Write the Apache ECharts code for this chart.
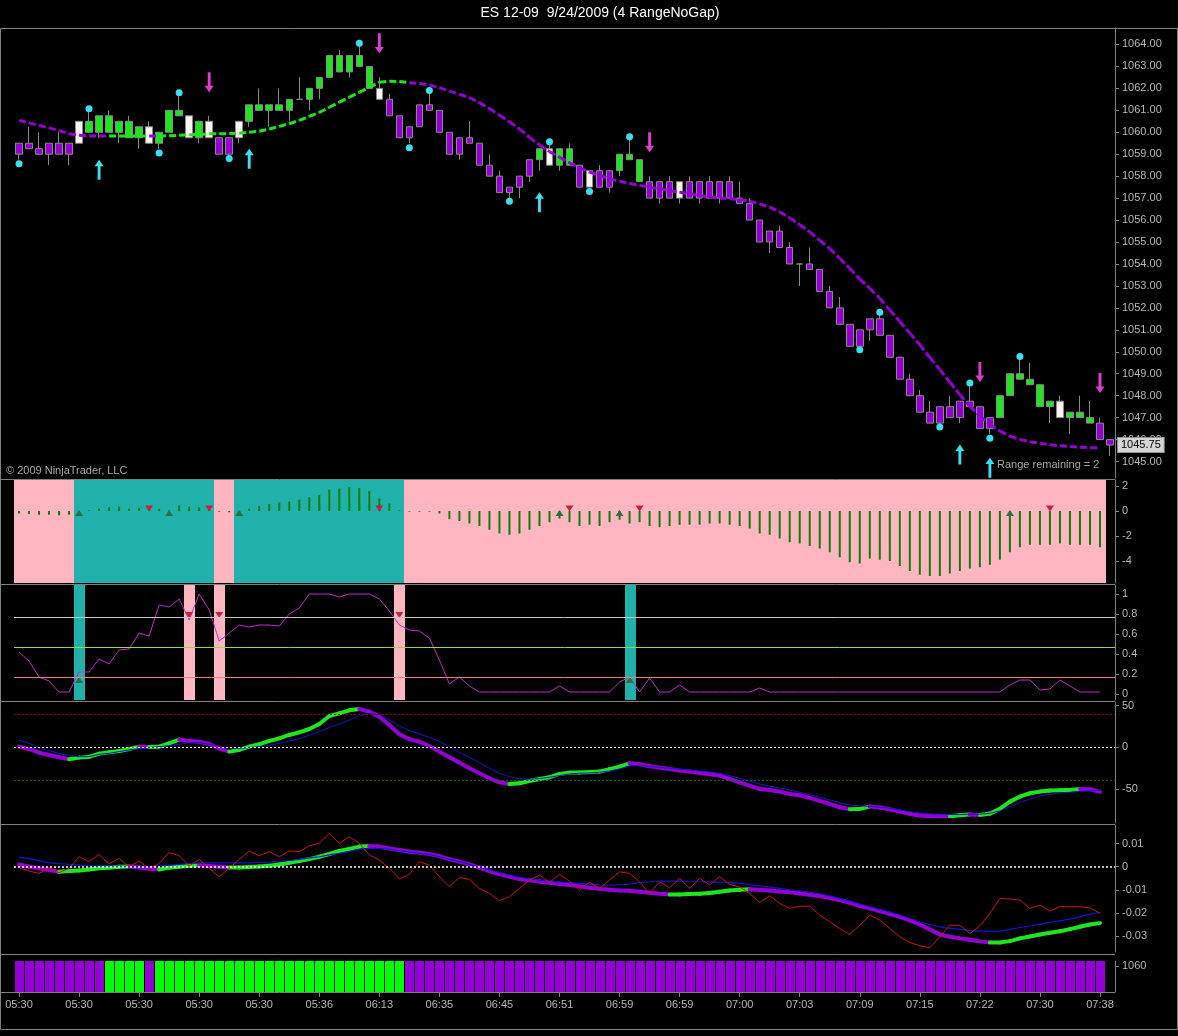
<!DOCTYPE html>
<html>
<head>
<meta charset="utf-8">
<title>ES 12-09 9/24/2009 (4 RangeNoGap)</title>
<script src="https://cdn.jsdelivr.net/npm/echarts@6/dist/echarts.min.js"></script>
<style>
html, body { margin: 0; padding: 0; background: #000; }
#chart { width: 1178px; height: 1036px; }
</style>
</head>
<body>
<div id="chart"></div>
<script>
// ---- data ----
var timeLabels = ['05:30','05:30','05:30','05:30','05:30','05:36','06:13','06:35','06:45','06:51',
  '06:59','06:59','07:00','07:03','07:09','07:15','07:22','07:30','07:38'];

var openPx = [1059.5,1059.5,1059.25,1059.5,1059.5,1059.5,1059.5,1060.0,1060.0,1060.0,
  1060.0,1059.75,1059.75,1059.5,1059.5,1060.0,1060.75,1059.75,1059.75,1059.75,
  1059.75,1059.75,1059.75,1060.5,1061.0,1061.0,1061.0,1061.0,1061.5,1061.5,
  1062.0,1062.5,1062.75,1062.75,1063.0,1062.0,1061.5,1061.5,1060.75,1060.25,
  1061.25,1061.25,1061.0,1060.0,1059.75,1059.75,1059.5,1058.5,1058.0,1057.5,
  1058.0,1058.75,1058.75,1058.5,1058.5,1058.5,1058.5,1057.5,1058.25,1058.25,
  1058.25,1058.75,1057.75,1057.75,1057.75,1057.75,1057.0,1057.75,1057.75,1057.75,
  1057.75,1057.75,1057.0,1056.75,1056.0,1055.5,1055.5,1054.75,1054.0,1054.0,
  1053.75,1052.75,1052.0,1051.25,1051.0,1051.5,1051.5,1050.75,1049.75,1048.75,
  1048.0,1047.25,1047.5,1047.5,1047.75,1047.75,1047.5,1047.0,1047.0,1048.0,
  1048.75,1048.5,1047.5,1047.5,1047.0,1047.0,1047.0,1046.75,1046.75,1046.0];
var closePx = [1059.0,1059.25,1059.0,1059.0,1059.0,1059.0,1060.5,1060.5,1060.75,1060.75,
  1060.5,1060.5,1060.25,1060.25,1060.0,1061.0,1061.0,1060.75,1060.5,1060.5,
  1059.0,1059.0,1060.5,1061.25,1061.25,1061.25,1061.25,1061.5,1061.5,1062.0,
  1062.5,1063.5,1063.5,1063.5,1063.5,1063.0,1062.0,1060.75,1059.75,1059.75,
  1060.25,1061.0,1060.0,1059.0,1059.0,1059.5,1058.5,1058.0,1057.25,1057.25,
  1057.5,1058.0,1059.25,1059.25,1059.25,1059.25,1057.5,1058.25,1057.5,1057.5,
  1059.0,1059.0,1058.75,1057.0,1057.0,1057.0,1057.75,1057.0,1057.0,1057.0,
  1057.0,1057.0,1056.75,1056.0,1055.0,1055.0,1054.75,1054.0,1054.0,1053.75,
  1052.75,1052.0,1051.25,1050.25,1050.25,1051.0,1050.75,1049.75,1048.75,1048.0,
  1047.25,1046.75,1046.75,1047.0,1047.0,1047.5,1046.5,1046.5,1048.0,1049.0,
  1049.0,1048.75,1048.5,1047.75,1047.75,1047.25,1047.25,1047.0,1046.0,1045.75];
var highPx = [1059.5,1060.25,1060.0,1059.5,1060.0,1059.5,1060.5,1061.0,1060.75,1061.0,
  1060.5,1060.75,1060.25,1060.5,1060.0,1061.0,1061.75,1060.75,1060.5,1060.75,
  1059.75,1059.75,1060.5,1061.25,1062.0,1061.25,1062.0,1061.5,1062.5,1062.0,
  1062.5,1063.5,1063.75,1063.5,1064.0,1063.0,1062.5,1061.75,1060.75,1060.25,
  1061.25,1062.0,1061.0,1060.0,1059.75,1060.5,1059.5,1059.0,1058.25,1057.5,
  1058.0,1058.75,1059.25,1059.5,1059.25,1059.5,1058.5,1058.25,1058.5,1058.25,
  1059.0,1059.75,1058.75,1058.0,1057.75,1058.0,1057.75,1058.0,1057.75,1058.0,
  1057.75,1058.0,1057.75,1057.0,1056.0,1055.5,1055.75,1055.0,1054.0,1054.75,
  1053.75,1053.0,1052.5,1051.25,1051.0,1051.5,1051.75,1050.75,1049.75,1049.0,
  1048.25,1047.75,1047.5,1048.0,1047.75,1048.5,1047.5,1047.0,1048.0,1049.0,
  1049.75,1049.5,1048.5,1047.75,1048.0,1047.25,1048.0,1047.75,1047.0,1046.0];
var lowPx = [1058.75,1059.25,1059.0,1058.5,1059.0,1058.5,1059.5,1060.0,1059.75,1060.0,
  1059.5,1059.75,1059.25,1059.5,1059.25,1060.0,1060.75,1059.75,1059.5,1059.75,
  1059.0,1058.75,1059.5,1060.25,1061.0,1060.25,1061.0,1060.5,1061.5,1061.0,
  1061.5,1062.5,1062.75,1062.5,1063.0,1062.0,1061.5,1060.75,1059.75,1059.5,
  1060.25,1061.0,1060.0,1059.0,1058.75,1059.5,1058.5,1058.0,1057.25,1056.75,
  1057.0,1057.75,1058.25,1058.5,1058.25,1058.5,1057.5,1057.5,1057.5,1057.25,
  1058.0,1058.75,1057.75,1057.0,1056.75,1057.0,1056.75,1057.0,1056.75,1057.0,
  1056.75,1057.0,1056.75,1056.0,1055.0,1054.5,1054.75,1054.0,1053.0,1053.75,
  1052.75,1052.0,1051.25,1050.25,1050.25,1050.5,1050.75,1049.75,1048.75,1048.0,
  1047.25,1046.75,1046.5,1047.0,1046.75,1047.5,1046.5,1046.25,1047.0,1048.0,
  1048.75,1048.5,1047.5,1046.75,1047.0,1046.25,1047.0,1046.75,1046.0,1045.25];
// candle paint state: 0 falling, 1 rising, 2 neutral
var candleTone = [0,0,0,0,0,0,2,1,1,1, 1,1,1,2,1,1,1,2,1,2,
  0,0,2,1,1,1,1,1,1,1, 1,1,1,1,1,1,2,0,0,0,
  0,0,0,0,0,0,0,0,0,0, 0,0,1,2,1,1,0,2,0,0,
  1,1,1,0,0,0,2,0,0,0, 0,0,0,0,0,0,0,0,0,0,
  0,0,0,0,0,0,0,0,0,0, 0,0,0,0,0,0,0,0,1,1,
  1,1,1,1,2,1,1,1,0,0];

var trendAvg = [1060.54,1060.43,1060.31,1060.2,1060.08,1059.93,1059.86,1059.83,1059.83,1059.83,
  1059.83,1059.83,1059.83,1059.83,1059.83,1059.84,1059.86,1059.89,1059.9,1059.93,
  1059.93,1059.94,1059.96,1060.0,1060.05,1060.15,1060.27,1060.39,1060.54,1060.72,
  1060.9,1061.14,1061.37,1061.6,1061.82,1062.05,1062.28,1062.32,1062.31,1062.26,
  1062.22,1062.15,1062.03,1061.88,1061.73,1061.58,1061.35,1061.08,1060.78,1060.48,
  1060.15,1059.77,1059.42,1059.12,1058.86,1058.61,1058.38,1058.19,1058.04,1057.88,
  1057.77,1057.67,1057.58,1057.5,1057.42,1057.35,1057.27,1057.2,1057.12,1057.05,
  1057.0,1056.97,1056.94,1056.86,1056.74,1056.59,1056.37,1056.1,1055.79,1055.46,
  1055.08,1054.7,1054.25,1053.8,1053.31,1052.89,1052.44,1051.9,1051.38,1050.85,
  1050.32,1049.74,1049.19,1048.61,1048.05,1047.52,1047.07,1046.69,1046.39,1046.16,
  1046.01,1045.9,1045.83,1045.77,1045.72,1045.68,1045.65,1045.63,1045.62];
// trend state per bar: 0 down, 1 up (bottom strip and average colour)
var trendState = [0,0,0,0,0,0,0,0,0,1, 1,1,1,0,1,1,1,1,1,1,
  1,1,1,1,1,1,1,1,1,1, 1,1,1,1,1,1,1,1,1,0,
  0,0,0,0,0,0,0,0,0,0, 0,0,0,0,0,0,0,0,0,0,
  0,0,0,0,0,0,0,0,0,0, 0,0,0,0,0,0,0,0,0,0,
  0,0,0,0,0,0,0,0,0,0, 0,0,0,0,0,0,0,0,0,0,
  0,0,0,0,0,0,0,0,0];

var dotBar = [0,7,14,16,21,34,39,41,49,53,57,61,84,86,92,95,97,100];
var dotPrice = [1058.57,1061.07,1059.06,1061.8,1058.8,1064.06,1059.3,1061.9,1056.86,1059.57,
  1057.3,1059.8,1050.09,1051.8,1046.57,1048.58,1046.06,1049.79];
var upArrowBar = [8,23,52,94,97];
var upArrowPrice = [1058.29,1058.79,1056.81,1045.32,1044.72];
var downArrowBar = [19,36,63,96,108];
var downArrowPrice = [1062.28,1064.05,1059.55,1049.08,1048.58];
var priceTicks = [1045,1046,1047,1048,1049,1050,1051,1052,1053,1054,1055,1056,1057,1058,1059,1060,1061,1062,1063,1064];

var histVal = [-0.2,-0.25,-0.3,-0.3,-0.35,-0.3,-0.1,0.05,0.2,0.3,
  0.35,0.2,0.25,0.2,0.15,0.05,0.45,0.35,0.3,0.35,
  -0.05,-0.1,-0.1,0.2,0.4,0.55,0.7,0.75,0.9,1.1,
  1.3,1.7,1.8,1.9,1.85,1.6,1.0,0.6,0.05,-0.05,
  -0.05,-0.05,-0.2,-0.65,-0.8,-1.0,-1.2,-1.5,-1.8,-1.9,
  -1.8,-1.5,-1.2,-0.9,-0.6,-0.9,-1.2,-1.1,-1.2,-0.9,
  -0.7,-1.0,-0.9,-1.2,-1.3,-1.2,-1.1,-1.1,-1.1,-1.0,
  -1.0,-1.1,-1.2,-1.4,-1.8,-1.9,-2.2,-2.5,-2.6,-2.8,
  -3.0,-3.3,-3.7,-4.1,-4.2,-3.8,-3.9,-4.0,-4.4,-4.8,
  -5.1,-5.2,-5.2,-5.0,-4.8,-4.6,-4.5,-4.3,-3.9,-3.3,
  -2.9,-2.7,-2.7,-2.7,-2.6,-2.7,-2.7,-2.7,-2.9];
// zone per bar: 0 pink, 1 teal
var histZone = [0,0,0,0,0,0,1,1,1,1, 1,1,1,1,1,1,1,1,1,1,
  0,0,1,1,1,1,1,1,1,1, 1,1,1,1,1,1,1,1,1,0,
  0,0,0,0,0,0,0,0,0,0, 0,0,0,0,0,0,0,0,0,0,
  0,0,0,0,0,0,0,0,0,0, 0,0,0,0,0,0,0,0,0,0,
  0,0,0,0,0,0,0,0,0,0, 0,0,0,0,0,0,0,0,0,0,
  0,0,0,0,0,0,0,0,0];
var histUpBar = [6,15,22,54,60,99];
var histUpVal = [-0.15,-0.15,-0.15,-0.15,-0.15,-0.15];
var histDownBar = [13,19,36,55,62,103];
var histDownVal = [0.2,0.2,0.2,0.2,0.2,0.2];
var histTicks = [-4,-2,0,2];

var oscVal = [0.42,0.33,0.17,0.13,0.02,0.02,0.22,0.22,0.35,0.30,
  0.44,0.45,0.61,0.58,0.89,0.87,0.95,0.74,1.0,0.84,
  0.53,0.61,0.69,0.67,0.69,0.69,0.68,0.80,0.86,1.0,
  1.0,1.0,0.97,1.0,1.0,1.0,0.95,0.83,0.69,0.64,
  0.63,0.56,0.34,0.10,0.17,0.08,0.02,0.02,0.02,0.02,
  0.02,0.02,0.02,0.02,0.08,0.02,0.02,0.02,0.02,0.02,
  0.12,0.17,0.02,0.16,0.02,0.02,0.09,0.02,0.02,0.02,
  0.02,0.02,0.02,0.02,0.06,0.02,0.02,0.02,0.02,0.02,
  0.02,0.02,0.02,0.02,0.02,0.02,0.02,0.02,0.02,0.02,
  0.02,0.02,0.02,0.02,0.02,0.02,0.02,0.02,0.02,0.09,
  0.14,0.14,0.04,0.05,0.14,0.08,0.02,0.02,0.02];
var oscLevels = [0.77,0.47,0.17];
var oscMarkBar = [6,17,20,38,61];
var oscMarkKind = [1,0,0,0,1];
var oscUpBar = [6,61];
var oscUpVal = [0.14,0.14];
var oscDownBar = [17,20,38];
var oscDownVal = [0.79,0.79,0.79];
var oscTicks = [0,0.2,0.4,0.6,0.8,1];

var macdMain = [0.8,-2,-6.4,-9.2,-12,-14.4,-12.4,-11.6,-7.6,-6,
  -4.4,-2,0.8,0.4,0.8,4.8,9.2,7.6,6.8,4,
  -1.2,-5.2,-3.2,0.8,3.6,7.6,10.8,14.8,18,22,
  28,37.6,40.8,44.4,46,42.8,36.8,26.8,15.6,9.6,
  6.8,1.6,-5.2,-12,-18.4,-25.2,-31.2,-37.2,-42,-44,
  -43.2,-40.4,-38,-36,-32,-30.4,-30.4,-29.6,-29.2,-26.4,
  -23.2,-19.2,-20.4,-22.8,-24.4,-26,-28,-29.2,-30.8,-32.4,
  -34,-38,-42,-46,-50,-51.2,-53.2,-56,-57.6,-60.8,
  -64.4,-68,-72,-74.4,-74,-71.2,-72.4,-74.4,-77.2,-80,
  -82,-82.6,-82.8,-82.9,-81.6,-80.8,-81.2,-79.6,-74,-65.2,
  -59.2,-55.2,-53.2,-52,-51.6,-51.2,-50,-50.4,-53.6];
var macdSignal = [8.8,4.8,-0.4,-4,-7.2,-9.6,-11.2,-11.2,-8.4,-7.2,
  -5.2,-3.2,-1.6,-0.4,0.8,2,3.6,5.6,5.6,3.6,
  1.6,-0.8,-1.2,-0.4,0.8,2.4,4.8,7.6,10.4,14.4,
  18.8,23.6,28,32.8,37.6,40.8,38.8,32.8,25.6,20,
  16,12,6.8,0.8,-6,-12,-18.4,-25.2,-31.2,-35.2,
  -37.6,-38.4,-37.6,-36,-34,-32,-31.2,-30.8,-30,-28.4,
  -26,-22.4,-22,-23.2,-24,-25.2,-26.4,-27.2,-28.4,-29.6,
  -31.2,-34,-37.2,-40.4,-44,-46.4,-48.8,-51.2,-54,-56.8,
  -60,-63.2,-66.4,-69.2,-70.4,-70.8,-72,-73.2,-75.2,-77.2,
  -78.8,-80,-80.4,-80.8,-80.8,-80.4,-80.4,-79.2,-76.4,-71.2,
  -66.4,-62,-58.4,-56.4,-55.2,-54,-52.8,-52.4,-52];
var macdLevels = [40,0,-40];
var macdTicks = [-50,0,50];

var slopeMain = [0.001,0,-0.0007,-0.0014,-0.0022,-0.0019,-0.0016,-0.0012,-0.0007,-0.0004,
  0,0.0001,-0.0003,-0.0009,-0.0012,-0.0004,0,0.0004,0.0006,0.0003,
  0,-0.0003,-0.0003,-0.0001,0.0001,0.0004,0.001,0.0017,0.0025,0.0033,
  0.0043,0.0055,0.0068,0.0077,0.0087,0.009,0.0087,0.0079,0.0072,0.0065,
  0.0061,0.0055,0.0046,0.0033,0.0022,0.001,-0.0004,-0.0019,-0.0032,-0.0043,
  -0.0053,-0.0059,-0.0064,-0.0069,-0.0074,-0.0079,-0.0085,-0.0091,-0.0095,-0.01,
  -0.0103,-0.0104,-0.0108,-0.0113,-0.0117,-0.012,-0.012,-0.0118,-0.0117,-0.0114,
  -0.0108,-0.0103,-0.01,-0.0098,-0.01,-0.0103,-0.0107,-0.011,-0.0116,-0.0121,
  -0.0127,-0.0136,-0.0144,-0.0156,-0.0169,-0.018,-0.0192,-0.0204,-0.0217,-0.0232,
  -0.025,-0.0271,-0.0293,-0.0303,-0.031,-0.0316,-0.0323,-0.0328,-0.0328,-0.0322,
  -0.031,-0.0302,-0.0293,-0.0286,-0.0279,-0.027,-0.026,-0.025,-0.0244];
var slopeSignal = [0.004,0.0036,0.0025,0.0017,0.0013,0.001,0.0007,0.0004,0.0004,0.0004,
  0.0003,0.0001,0.0001,0.0001,0.0004,0.0007,0.001,0.0013,0.0016,0.0017,
  0.0017,0.0017,0.0017,0.0017,0.0019,0.002,0.0023,0.0027,0.0032,0.0038,
  0.0043,0.0051,0.0058,0.0066,0.0075,0.0079,0.0079,0.0075,0.0069,0.0064,
  0.0058,0.0052,0.0043,0.0033,0.0022,0.001,-0.0001,-0.0014,-0.0026,-0.0036,
  -0.0046,-0.0052,-0.0058,-0.0062,-0.0066,-0.0069,-0.0072,-0.0075,-0.0078,-0.0079,
  -0.0079,-0.0075,-0.0069,-0.0065,-0.0062,-0.0062,-0.0062,-0.0064,-0.0065,-0.0066,
  -0.0068,-0.0068,-0.0071,-0.0077,-0.0082,-0.0088,-0.0094,-0.01,-0.0104,-0.011,
  -0.0117,-0.0126,-0.0137,-0.0149,-0.0162,-0.0173,-0.0185,-0.0196,-0.0209,-0.0224,
  -0.0238,-0.025,-0.026,-0.0267,-0.0271,-0.0276,-0.0279,-0.0279,-0.0279,-0.0271,
  -0.0263,-0.0256,-0.0248,-0.0241,-0.0234,-0.0227,-0.0217,-0.0205,-0.0199];
var slopeRaw = [-0.0004,-0.0019,-0.0029,-0.0004,-0.0026,-0.0007,0.0043,0.0022,0.0053,0.0012,
  0.0036,0,0.0025,-0.001,0.0014,0.0061,0.0048,0.0003,0.0032,-0.0007,
  -0.0043,-0.0007,0.0032,0.0068,0.0048,0.0065,0.0043,0.0068,0.0065,0.0091,
  0.0101,0.0144,0.0101,0.013,0.0101,0.0051,0.0029,-0.0007,-0.0053,-0.0033,
  0.0022,0.0007,-0.0043,-0.0087,-0.0046,-0.0055,-0.0094,-0.0116,-0.0147,-0.013,
  -0.0094,-0.0058,-0.0036,-0.0068,-0.0033,-0.0062,-0.0101,-0.0068,-0.0094,-0.0058,
  -0.0022,-0.0029,-0.0065,-0.0116,-0.0065,-0.0091,-0.0051,-0.0094,-0.0051,-0.0079,
  -0.0043,-0.0077,-0.0087,-0.0116,-0.0155,-0.0126,-0.0159,-0.018,-0.0171,-0.0171,
  -0.0209,-0.0238,-0.0267,-0.0293,-0.0253,-0.0209,-0.0231,-0.0267,-0.0303,-0.0328,
  -0.0342,-0.0351,-0.0303,-0.0253,-0.0253,-0.0289,-0.0256,-0.0202,-0.0137,-0.014,
  -0.0144,-0.018,-0.0166,-0.0192,-0.0173,-0.0173,-0.0173,-0.0178,-0.0202];
var slopeTicks = [-0.03,-0.02,-0.01,0,0.01];
var stripTicks = [1060];

// ---- chart ----
var dom = document.getElementById('chart');
var myChart = echarts.init(dom);

var PURPLE = '#9400D3', GREEN = '#1EE61E', WHITE = '#FFF5EE';
var TEAL = '#20B2AA', PINK = '#FFB6C1';
var AXIS = '#808080', LABEL = '#b8b8b8';
var CYAN = '#38E0F0', MAGENTA = '#E03CD2';
var toneColor = [PURPLE, GREEN, WHITE];
var UP_ARROW = 'path://M5,0 L10,7 L6.6,7 L6.6,22 L3.4,22 L3.4,7 L0,7 Z';
var DOWN_ARROW = 'path://M3.4,0 L6.6,0 L6.6,15 L10,15 L5,22 L0,15 L3.4,15 Z';
var DOWN_TRI = 'path://M0,0 L10,0 L5,8 Z';

var cats = openPx.map(function (v, i) { return i; });
var lastClose = closePx[closePx.length - 1];

var candles = openPx.map(function (o, i) {
  var c = toneColor[candleTone[i]];
  return {
    value: [o, closePx[i], lowPx[i], highPx[i]],
    itemStyle: { color: c, color0: c, borderColor: '#8a8a8a', borderColor0: '#8a8a8a', borderWidth: 1 }
  };
});

function pairs(bars, vals) {
  return bars.map(function (b, i) { return [b, vals[i]]; });
}

var grids = [
  { left: 14, right: 63, top: 28, height: 450 },
  { left: 14, right: 63, top: 480, height: 103 },
  { left: 14, right: 63, top: 585, height: 115 },
  { left: 14, right: 63, top: 702, height: 121 },
  { left: 14, right: 63, top: 825, height: 127 },
  { left: 14, right: 63, top: 961, height: 31 }
];

function everySixth(idx) { return idx % 6 === 0; }

var xAxes = grids.map(function (g, i) {
  var last = i === grids.length - 1;
  return {
    type: 'category', gridIndex: i, data: cats, boundaryGap: true,
    axisLine: { show: false },
    axisTick: { show: last, alignWithLabel: true, length: 5, interval: everySixth, lineStyle: { color: AXIS } },
    axisLabel: {
      show: last, interval: everySixth, color: LABEL, fontSize: 11, margin: 7,
      formatter: function (v, idx) { return timeLabels[idx / 6]; }
    },
    splitLine: { show: false }
  };
});

function yAx(idx, min, max, ticks, fmt) {
  return {
    type: 'value', gridIndex: idx, position: 'right', min: min, max: max,
    axisLine: { show: true, lineStyle: { color: AXIS } },
    axisTick: { show: true, length: 4, lineStyle: { color: AXIS }, customValues: ticks },
    axisLabel: { color: LABEL, fontSize: 11, margin: 7, customValues: ticks, formatter: fmt },
    splitLine: { show: false }
  };
}

var yAxes = [
  yAx(0, 1044.25, 1064.75, priceTicks, function (v) { return v.toFixed(2); }),
  yAx(1, -5.76, 2.48, histTicks, function (v) { return String(v); }),
  yAx(2, -0.06, 1.09, oscTicks, function (v) { return String(v); }),
  yAx(3, -90.9, 54.4, macdTicks, function (v) { return String(v); }),
  yAx(4, -0.0369, 0.01805, slopeTicks, function (v) { return String(Math.round(v * 100) / 100); }),
  yAx(5, 1054.5, 1061, stripTicks, function (v) { return String(v); })
];

// one line segment per bar, coloured per segment
function segmentSeries(gi, values, colorOf, width, dash, z) {
  var data = [];
  for (var k = 1; k < values.length; k++) {
    if (values[k] == null || values[k - 1] == null) continue;
    data.push([k, values[k], values[k - 1]]);
  }
  return {
    type: 'custom', xAxisIndex: gi, yAxisIndex: gi, silent: true, z: z,
    encode: { x: 0, y: 1 },
    data: data,
    renderItem: function (params, api) {
      var k = api.value(0);
      var p1 = api.coord([k, api.value(1)]);
      var p0 = api.coord([k - 1, api.value(2)]);
      return {
        type: 'line',
        shape: { x1: p0[0], y1: p0[1], x2: p1[0], y2: p1[1] },
        style: { stroke: colorOf(k), lineWidth: width, lineDash: dash, lineCap: dash ? 'butt' : 'round', fill: null }
      };
    }
  };
}

// full-height band behind a bar; gap > 0 leaves a black seam between cells
function bandSeries(gi, items, colorOf, gap, z) {
  return {
    type: 'custom', xAxisIndex: gi, yAxisIndex: gi, silent: true, z: z,
    data: items,
    renderItem: function (params, api) {
      var k = api.value(0);
      var pt = api.coord([k, 0]);
      var w = api.size([1, 0])[0];
      var cs = params.coordSys;
      var x0 = Math.round(pt[0] - w / 2);
      var x1 = Math.round(pt[0] + w / 2);
      return {
        type: 'rect',
        shape: { x: x0 + gap, y: cs.y, width: x1 - x0 - gap + (gap ? 0 : 1), height: cs.height },
        style: { fill: colorOf(api.value(1)) }
      };
    }
  };
}

function risingColor(values) {
  return function (k) { return values[k] >= values[k - 1] ? GREEN : PURPLE; };
}

function levelLines(values, colors, width, dash) {
  return {
    silent: true, symbol: ['none', 'none'], label: { show: false }, animation: false,
    data: values.map(function (v, i) {
      return { yAxis: v, lineStyle: { color: colors[i], width: width, type: dash || 'solid' } };
    })
  };
}

var series = [
  // price panel
  {
    type: 'candlestick', xAxisIndex: 0, yAxisIndex: 0, barWidth: 7, z: 2, data: candles,
    markLine: {
      silent: true, symbol: ['none', 'none'], animation: false,
      lineStyle: { color: 'transparent' },
      data: [{ yAxis: lastClose }],
      label: {
        position: 'end', distance: 3, formatter: lastClose.toFixed(2), color: '#000', fontSize: 11,
        backgroundColor: '#d4d4d4', borderColor: '#909090', borderWidth: 1, padding: [2, 3, 1, 3]
      }
    }
  },
  segmentSeries(0, trendAvg, function (k) { return trendState[k - 1] ? GREEN : PURPLE; }, 3, [7, 3], 3),
  { type: 'scatter', xAxisIndex: 0, yAxisIndex: 0, z: 4, symbolSize: 7, itemStyle: { color: CYAN, opacity: 1 }, data: pairs(dotBar, dotPrice) },
  { type: 'scatter', xAxisIndex: 0, yAxisIndex: 0, z: 4, symbol: UP_ARROW, symbolSize: [9, 20], itemStyle: { color: CYAN, opacity: 1 }, data: pairs(upArrowBar, upArrowPrice) },
  { type: 'scatter', xAxisIndex: 0, yAxisIndex: 0, z: 4, symbol: DOWN_ARROW, symbolSize: [9, 20], itemStyle: { color: MAGENTA, opacity: 1 }, data: pairs(downArrowBar, downArrowPrice) },

  // histogram panel
  bandSeries(1, histZone.map(function (s, i) { return [i, s]; }), function (s) { return s ? TEAL : PINK; }, 0, 1),
  { type: 'bar', xAxisIndex: 1, yAxisIndex: 1, z: 2, barWidth: 2, itemStyle: { color: '#0A800A' }, data: histVal },
  { type: 'scatter', xAxisIndex: 1, yAxisIndex: 1, z: 3, symbol: 'triangle', symbolSize: [8, 6], itemStyle: { color: '#2A7040', opacity: 1 }, data: pairs(histUpBar, histUpVal) },
  { type: 'scatter', xAxisIndex: 1, yAxisIndex: 1, z: 3, symbol: DOWN_TRI, symbolSize: [8, 6], itemStyle: { color: '#C8203A', opacity: 1 }, data: pairs(histDownBar, histDownVal) },

  // oscillator panel
  bandSeries(2, oscMarkBar.map(function (b, i) { return [b, oscMarkKind[i]]; }), function (s) { return s ? TEAL : PINK; }, 0, 1),
  {
    type: 'line', xAxisIndex: 2, yAxisIndex: 2, z: 3, showSymbol: false, data: oscVal,
    lineStyle: { color: '#C22EC8', width: 1 },
    markLine: levelLines(oscLevels, ['#C8C8C8', '#9ADC32', '#F08080'], 1)
  },
  { type: 'scatter', xAxisIndex: 2, yAxisIndex: 2, z: 4, symbol: 'triangle', symbolSize: [8, 6], itemStyle: { color: '#2A7040', opacity: 1 }, data: pairs(oscUpBar, oscUpVal) },
  { type: 'scatter', xAxisIndex: 2, yAxisIndex: 2, z: 4, symbol: DOWN_TRI, symbolSize: [8, 6], itemStyle: { color: '#C8203A', opacity: 1 }, data: pairs(oscDownBar, oscDownVal) },

  // momentum panel
  segmentSeries(3, macdMain, risingColor(macdMain), 4, null, 2),
  {
    type: 'line', xAxisIndex: 3, yAxisIndex: 3, z: 3, showSymbol: false, data: macdSignal,
    lineStyle: { color: '#1414D0', width: 1 },
    markLine: levelLines(macdLevels, ['#8B0000', '#FFFFFF', '#007000'], 1, [2, 2])
  },

  // slope panel
  segmentSeries(4, slopeMain, risingColor(slopeMain), 4, null, 2),
  {
    type: 'line', xAxisIndex: 4, yAxisIndex: 4, z: 3, showSymbol: false, data: slopeSignal,
    lineStyle: { color: '#1414D0', width: 1.2 },
    markLine: levelLines([0], ['#FFFFFF'], 1.5, [2, 2])
  },
  { type: 'line', xAxisIndex: 4, yAxisIndex: 4, z: 4, showSymbol: false, data: slopeRaw, lineStyle: { color: '#D01414', width: 1 } },

  // trend strip
  bandSeries(5, trendState.map(function (s, i) { return [i, s]; }), function (s) { return s ? '#00FF00' : PURPLE; }, 1, 2)
];

var sepY = [479.5, 584.5, 701.5, 824.5, 954.5, 992.5];
var graphics = sepY.map(function (y) {
  return { type: 'line', silent: true, z: 10, shape: { x1: 1, y1: y, x2: 1115, y2: y }, style: { stroke: AXIS, lineWidth: 1 } };
});
graphics.push({ type: 'rect', silent: true, z: 10, shape: { x: 0.5, y: 28.5, width: 1177, height: 1001 }, style: { fill: null, stroke: AXIS, lineWidth: 1 } });
graphics.push({ type: 'text', silent: true, z: 10, x: 600, y: 13, style: { text: 'ES 12-09  9/24/2009 (4 RangeNoGap)', fill: '#ffffff', font: '14px Arial, "Liberation Sans", sans-serif', textAlign: 'center', textVerticalAlign: 'middle' } });
graphics.push({ type: 'text', silent: true, z: 10, x: 6, y: 471, style: { text: '\u00A9 2009 NinjaTrader, LLC', fill: '#a8a8a8', font: '11px Arial, "Liberation Sans", sans-serif', textVerticalAlign: 'middle' } });
graphics.push({ type: 'text', silent: true, z: 10, x: 997, y: 465, style: { text: 'Range remaining = 2', fill: '#a8a8a8', font: '11px Arial, "Liberation Sans", sans-serif', textVerticalAlign: 'middle' } });

var option = {
  backgroundColor: '#000',
  animation: false,
  textStyle: { fontFamily: 'Arial, "Liberation Sans", sans-serif' },
  grid: grids,
  xAxis: xAxes,
  yAxis: yAxes,
  series: series,
  graphic: graphics
};

if (option && typeof option === 'object') {
  myChart.setOption(option, true);
}
</script>
</body>
</html>
